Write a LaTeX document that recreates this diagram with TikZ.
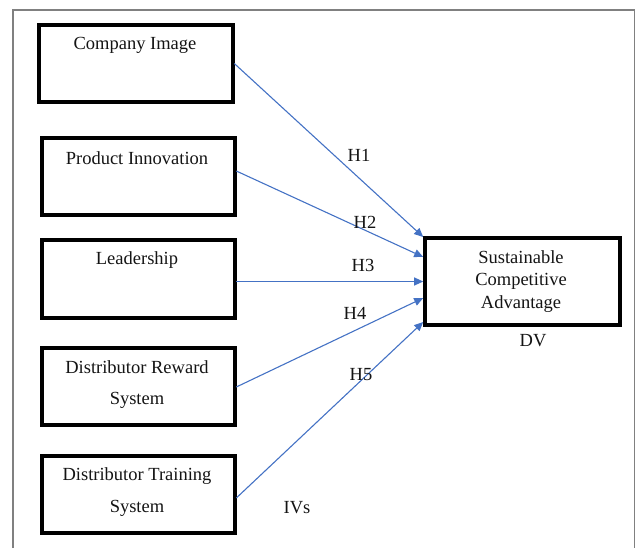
\documentclass[tikz,border=0pt]{standalone}
\usepackage{fontspec}
\setmainfont{Liberation Serif}
\usetikzlibrary{arrows.meta}
\definecolor{arrowblue}{RGB}{68,114,196}
\definecolor{framegray}{RGB}{128,128,128}
\definecolor{txt}{RGB}{20,20,20}
\begin{document}
\begin{tikzpicture}[x=1pt,y=-1pt,
  box/.style={draw=black,line width=3.6pt,rectangle,inner sep=0pt,minimum width=193pt,minimum height=77pt},
  lbl/.style={font=\fontsize{18.5}{22}\selectfont,text=txt,inner sep=0pt,align=center},
  hyp/.style={draw=arrowblue,line width=1.1pt,-{Triangle[length=9pt,width=8pt]}}]
\useasboundingbox (0,0) rectangle (636,548);
% outer frame
\draw[framegray,line width=1.5pt] (13,548) -- (13,10) -- (634.5,10) -- (634.5,548);
% boxes
\node[box,minimum width=194pt] (ci) at (136,63.5) {};
\node[box] (pi) at (138.5,176.5) {};
\node[box,minimum height=78pt] (ld) at (138.5,279) {};
\node[box] (dr) at (138.5,386.5) {};
\node[box] (dt) at (138.5,494.5) {};
\node[box,minimum width=195pt,minimum height=87pt] (dv) at (522.5,281.5) {};
% texts
\node[lbl] (tci) at (135,45) {Company Image};
\node[lbl] (tpi) at (137,158) {Product Innovation};
\node[lbl] (tld) at (137,260) {Leadership};
\node[lbl] (tdr1) at (137,367) {Distributor Reward};
\node[lbl] (tdr2) at (137,400) {System};
\node[lbl] (tdt1) at (137,476) {Distributor Training};
\node[lbl] (tdt2) at (137,508) {System};
\node[lbl] (tdv1) at (521,257) {Sustainable};
\node[lbl] (tdv2) at (521,281) {Competitive};
\node[lbl] (tdv3) at (521,304) {Advantage};
\node[lbl] (dvl) at (533,341) {DV};
\node[lbl] (ivl) at (297,508) {IVs};
% arrows
\draw[hyp] ([xshift=-0.5pt]ci.east) -- ([yshift=44.5pt]dv.west);
\draw[hyp] ([xshift=-0.5pt,yshift=5.5pt]pi.east) -- ([yshift=24.5pt]dv.west);
\draw[hyp] ([xshift=-0.5pt,yshift=-2.5pt]ld.east) -- (dv.west);
\draw[hyp] ([xshift=-0.5pt,yshift=-0.5pt]dr.east) -- ([yshift=-16.5pt]dv.west);
\draw[hyp] ([xshift=-0.5pt,yshift=-3.5pt]dt.east) -- ([yshift=-40.5pt]dv.west);
% hypothesis labels
\node[lbl] (h1) at (359,155) {H1};
\node[lbl] (h2) at (365,222) {H2};
\node[lbl] (h3) at (363,265) {H3};
\node[lbl] (h4) at (355,313) {H4};
\node[lbl] (h5) at (361,375) {H5};
\end{tikzpicture}
\end{document}
